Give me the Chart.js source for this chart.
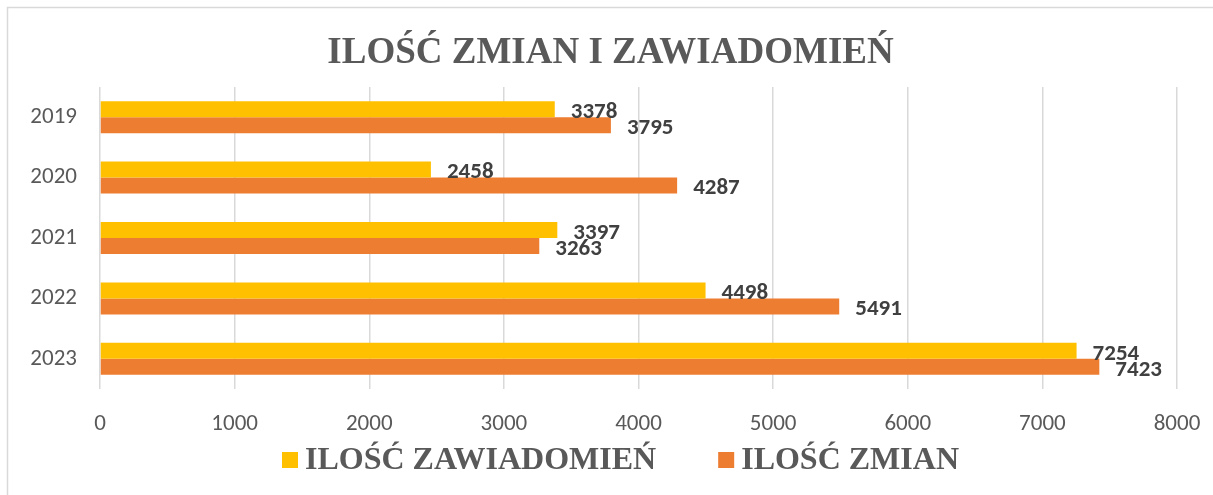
<!DOCTYPE html>
<html>
<head>
<meta charset="utf-8">
<script src="https://cdn.jsdelivr.net/npm/chart.js@4.4.1/dist/chart.umd.min.js"></script>
<style>
  html, body { margin: 0; padding: 0; background: #ffffff; }
  #wrap { position: relative; width: 1213px; height: 495px; }
</style>
</head>
<body>
<div id="wrap"><canvas id="c" width="1213" height="495"></canvas></div>
<script>
const categories = ['2019', '2020', '2021', '2022', '2023'];
const notificationsLabel = 'ILOŚĆ ZAWIADOMIEŃ';
const notifications = [3378, 2458, 3397, 4498, 7254];
const changesLabel = 'ILOŚĆ ZMIAN';
const changes = [3795, 4287, 3263, 5491, 7423];
const titleText = 'ILOŚĆ ZMIAN I ZAWIADOMIEŃ';
const xTicks = [0, 1000, 2000, 3000, 4000, 5000, 6000, 7000, 8000];

const YELLOW = '#FFC000';
const ORANGE = '#ED7D31';
const TICK_COLOR = '#595959';
const LABEL_FONT = 'Carlito, Lato, "Liberation Sans", sans-serif';
const SERIF = '"Liberation Serif", "Times New Roman", serif';

const framePlugin = {
  id: 'frame',
  beforeDraw(chart) {
    const ctx = chart.ctx;
    ctx.save();
    ctx.strokeStyle = '#d9d9d9';
    ctx.lineWidth = 1.5;
    ctx.beginPath();
    ctx.moveTo(7.5, chart.height);
    ctx.lineTo(7.5, 7.5);
    ctx.lineTo(chart.width, 7.5);
    ctx.stroke();
    ctx.restore();
  },
  afterDraw(chart) {
    const ctx = chart.ctx;
    ctx.save();
    ctx.font = 'bold 37px ' + SERIF;
    ctx.fillStyle = TICK_COLOR;
    ctx.textAlign = 'center';
    ctx.textBaseline = 'alphabetic';
    ctx.fillText(titleText, chart.width / 2 + 4, 63);
    ctx.restore();
  }
};

const valueLabelPlugin = {
  id: 'valueLabels',
  afterDatasetsDraw(chart) {
    const ctx = chart.ctx;
    ctx.save();
    ctx.font = 'bold 23px ' + LABEL_FONT;
    ctx.fillStyle = '#404040';
    ctx.textAlign = 'left';
    ctx.textBaseline = 'middle';
    chart.data.datasets.forEach((ds, di) => {
      const meta = chart.getDatasetMeta(di);
      meta.data.forEach((bar, i) => {
        ctx.fillText(String(ds.data[i]), bar.x + 16, bar.y + 3);
      });
    });
    ctx.restore();
  }
};

const legendPlugin = {
  id: 'customLegend',
  afterDraw(chart) {
    const ctx = chart.ctx;
    ctx.save();
    ctx.font = 'bold 32px ' + SERIF;
    const items = chart.data.datasets.map(ds => ({
      text: ds.label, color: ds.backgroundColor, w: ctx.measureText(ds.label).width
    }));
    const box = 16, gapText = 7, gapItems = 62;
    let total = 0;
    items.forEach((it, i) => { total += box + gapText + it.w + (i ? gapItems : 0); });
    let x = chart.width / 2 + 14 - total / 2;
    const baseline = 469;
    items.forEach((it, i) => {
      if (i) x += gapItems;
      ctx.fillStyle = it.color;
      ctx.fillRect(x, 452, box, box);
      x += box + gapText;
      ctx.fillStyle = TICK_COLOR;
      ctx.textBaseline = 'alphabetic';
      ctx.textAlign = 'left';
      ctx.fillText(it.text, x, baseline);
      x += it.w;
    });
    ctx.restore();
  }
};

new Chart(document.getElementById('c'), {
  type: 'bar',
  data: {
    labels: categories,
    datasets: [
      { label: notificationsLabel, data: notifications, backgroundColor: YELLOW,
        categoryPercentage: 0.53, barPercentage: 1.0 },
      { label: changesLabel, data: changes, backgroundColor: ORANGE,
        categoryPercentage: 0.53, barPercentage: 1.0 }
    ]
  },
  options: {
    indexAxis: 'y',
    responsive: false,
    animation: false,
    devicePixelRatio: 1,
    layout: { padding: { top: 87, right: 36, bottom: 0, left: 0 } },
    plugins: {
      legend: { display: false },
      tooltip: { enabled: false },
      title: { display: false }
    },
    scales: {
      x: {
        min: 0, max: 8000,
        afterBuildTicks(scale) { scale.ticks = xTicks.map(v => ({ value: v })); },
        afterFit(scale) {
          scale.height = 106;
          scale.paddingRight = 0;
          scale.paddingLeft = 0;
        },
        grid: { color: '#d9d9d9', lineWidth: 1.5, drawTicks: false },
        border: { display: false },
        ticks: {
          color: TICK_COLOR, padding: 21, font: { family: LABEL_FONT, size: 23 },
          callback: (v) => String(v)
        }
      },
      y: {
        afterFit(scale) { scale.width = 100; },
        grid: { display: false, drawTicks: false },
        border: { display: false },
        ticks: { color: TICK_COLOR, padding: 23, font: { family: LABEL_FONT, size: 23 } }
      }
    }
  },
  plugins: [framePlugin, valueLabelPlugin, legendPlugin]
});
</script>
</body>
</html>
